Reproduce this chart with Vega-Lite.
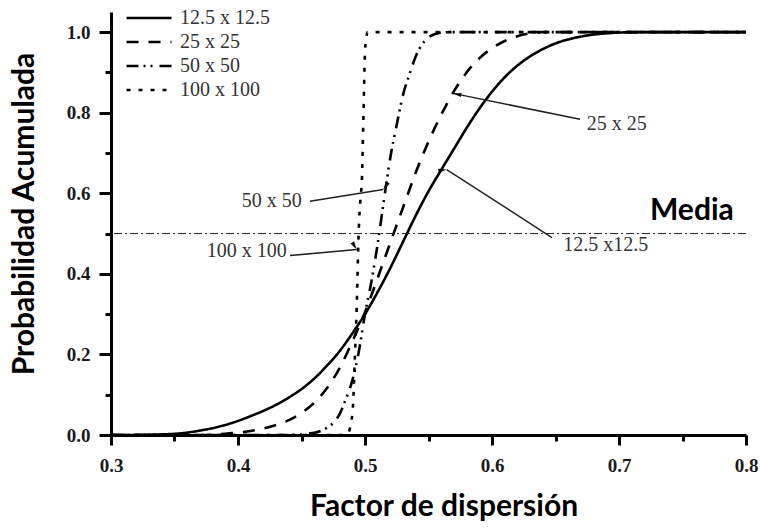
{
  "$schema": "https://vega.github.io/schema/vega-lite/v6.json",
  "width": 635,
  "height": 423,
  "autosize": {"type": "none"},
  "padding": {"left": 111, "top": 12, "right": 14, "bottom": 96},
  "background": "white",
  "config": {
    "view": {"stroke": null},
    "axis": {
      "grid": false,
      "tickWidth": 3, "tickColor": "black",
      "domainWidth": 3, "domainColor": "black",
      "labelFont": "Liberation Serif", "labelFontWeight": "bold", "labelFontSize": 19, "labelColor": "#1a1a1a",
      "labelOverlap": false, "labelFlush": false,
      "titleFont": "Lato", "titleFontWeight": "bold", "titleFontSize": 30, "titleColor": "black"
    }
  },
  "datasets": {
    "curves": [
      {"serie": "12.5 x 12.5", "x": 0.30, "p": 0},
      {"serie": "12.5 x 12.5", "x": 0.32, "p": 0.0002},
      {"serie": "12.5 x 12.5", "x": 0.34, "p": 0.0015},
      {"serie": "12.5 x 12.5", "x": 0.35, "p": 0.003},
      {"serie": "12.5 x 12.5", "x": 0.36, "p": 0.006},
      {"serie": "12.5 x 12.5", "x": 0.37, "p": 0.011},
      {"serie": "12.5 x 12.5", "x": 0.38, "p": 0.017},
      {"serie": "12.5 x 12.5", "x": 0.39, "p": 0.025},
      {"serie": "12.5 x 12.5", "x": 0.40, "p": 0.035},
      {"serie": "12.5 x 12.5", "x": 0.41, "p": 0.047},
      {"serie": "12.5 x 12.5", "x": 0.42, "p": 0.06},
      {"serie": "12.5 x 12.5", "x": 0.43, "p": 0.075},
      {"serie": "12.5 x 12.5", "x": 0.44, "p": 0.093},
      {"serie": "12.5 x 12.5", "x": 0.45, "p": 0.114},
      {"serie": "12.5 x 12.5", "x": 0.46, "p": 0.14},
      {"serie": "12.5 x 12.5", "x": 0.47, "p": 0.172},
      {"serie": "12.5 x 12.5", "x": 0.48, "p": 0.208},
      {"serie": "12.5 x 12.5", "x": 0.49, "p": 0.252},
      {"serie": "12.5 x 12.5", "x": 0.50, "p": 0.30},
      {"serie": "12.5 x 12.5", "x": 0.51, "p": 0.355},
      {"serie": "12.5 x 12.5", "x": 0.52, "p": 0.415},
      {"serie": "12.5 x 12.5", "x": 0.53, "p": 0.48},
      {"serie": "12.5 x 12.5", "x": 0.54, "p": 0.545},
      {"serie": "12.5 x 12.5", "x": 0.55, "p": 0.605},
      {"serie": "12.5 x 12.5", "x": 0.56, "p": 0.658},
      {"serie": "12.5 x 12.5", "x": 0.57, "p": 0.71},
      {"serie": "12.5 x 12.5", "x": 0.58, "p": 0.762},
      {"serie": "12.5 x 12.5", "x": 0.59, "p": 0.81},
      {"serie": "12.5 x 12.5", "x": 0.60, "p": 0.852},
      {"serie": "12.5 x 12.5", "x": 0.61, "p": 0.888},
      {"serie": "12.5 x 12.5", "x": 0.62, "p": 0.917},
      {"serie": "12.5 x 12.5", "x": 0.63, "p": 0.94},
      {"serie": "12.5 x 12.5", "x": 0.64, "p": 0.958},
      {"serie": "12.5 x 12.5", "x": 0.65, "p": 0.972},
      {"serie": "12.5 x 12.5", "x": 0.66, "p": 0.982},
      {"serie": "12.5 x 12.5", "x": 0.67, "p": 0.989},
      {"serie": "12.5 x 12.5", "x": 0.68, "p": 0.994},
      {"serie": "12.5 x 12.5", "x": 0.69, "p": 0.997},
      {"serie": "12.5 x 12.5", "x": 0.70, "p": 0.999},
      {"serie": "12.5 x 12.5", "x": 0.72, "p": 1.0},
      {"serie": "12.5 x 12.5", "x": 0.80, "p": 1.0},
      {"serie": "25 x 25", "x": 0.30, "p": 0},
      {"serie": "25 x 25", "x": 0.37, "p": 0},
      {"serie": "25 x 25", "x": 0.39, "p": 0.003},
      {"serie": "25 x 25", "x": 0.40, "p": 0.006},
      {"serie": "25 x 25", "x": 0.41, "p": 0.01},
      {"serie": "25 x 25", "x": 0.42, "p": 0.016},
      {"serie": "25 x 25", "x": 0.43, "p": 0.025},
      {"serie": "25 x 25", "x": 0.44, "p": 0.037},
      {"serie": "25 x 25", "x": 0.45, "p": 0.055},
      {"serie": "25 x 25", "x": 0.46, "p": 0.08},
      {"serie": "25 x 25", "x": 0.47, "p": 0.116},
      {"serie": "25 x 25", "x": 0.48, "p": 0.166},
      {"serie": "25 x 25", "x": 0.49, "p": 0.232},
      {"serie": "25 x 25", "x": 0.50, "p": 0.305},
      {"serie": "25 x 25", "x": 0.51, "p": 0.39},
      {"serie": "25 x 25", "x": 0.52, "p": 0.478},
      {"serie": "25 x 25", "x": 0.53, "p": 0.565},
      {"serie": "25 x 25", "x": 0.54, "p": 0.652},
      {"serie": "25 x 25", "x": 0.55, "p": 0.728},
      {"serie": "25 x 25", "x": 0.56, "p": 0.795},
      {"serie": "25 x 25", "x": 0.57, "p": 0.853},
      {"serie": "25 x 25", "x": 0.58, "p": 0.90},
      {"serie": "25 x 25", "x": 0.59, "p": 0.935},
      {"serie": "25 x 25", "x": 0.60, "p": 0.96},
      {"serie": "25 x 25", "x": 0.61, "p": 0.978},
      {"serie": "25 x 25", "x": 0.62, "p": 0.99},
      {"serie": "25 x 25", "x": 0.63, "p": 0.997},
      {"serie": "25 x 25", "x": 0.64, "p": 1.0},
      {"serie": "25 x 25", "x": 0.80, "p": 1.0},
      {"serie": "50 x 50", "x": 0.30, "p": 0},
      {"serie": "50 x 50", "x": 0.44, "p": 0},
      {"serie": "50 x 50", "x": 0.455, "p": 0.003},
      {"serie": "50 x 50", "x": 0.465, "p": 0.01},
      {"serie": "50 x 50", "x": 0.47, "p": 0.018},
      {"serie": "50 x 50", "x": 0.475, "p": 0.03},
      {"serie": "50 x 50", "x": 0.48, "p": 0.052},
      {"serie": "50 x 50", "x": 0.485, "p": 0.09},
      {"serie": "50 x 50", "x": 0.49, "p": 0.135},
      {"serie": "50 x 50", "x": 0.495, "p": 0.205},
      {"serie": "50 x 50", "x": 0.50, "p": 0.30},
      {"serie": "50 x 50", "x": 0.505, "p": 0.38},
      {"serie": "50 x 50", "x": 0.51, "p": 0.475},
      {"serie": "50 x 50", "x": 0.515, "p": 0.585},
      {"serie": "50 x 50", "x": 0.52, "p": 0.69},
      {"serie": "50 x 50", "x": 0.525, "p": 0.77},
      {"serie": "50 x 50", "x": 0.53, "p": 0.845},
      {"serie": "50 x 50", "x": 0.535, "p": 0.895},
      {"serie": "50 x 50", "x": 0.54, "p": 0.94},
      {"serie": "50 x 50", "x": 0.545, "p": 0.97},
      {"serie": "50 x 50", "x": 0.55, "p": 0.987},
      {"serie": "50 x 50", "x": 0.555, "p": 0.995},
      {"serie": "50 x 50", "x": 0.56, "p": 0.999},
      {"serie": "50 x 50", "x": 0.57, "p": 1.0},
      {"serie": "50 x 50", "x": 0.80, "p": 1.0},
      {"serie": "100 x 100", "x": 0.30, "p": 0},
      {"serie": "100 x 100", "x": 0.485, "p": 0},
      {"serie": "100 x 100", "x": 0.487, "p": 0.006},
      {"serie": "100 x 100", "x": 0.489, "p": 0.03},
      {"serie": "100 x 100", "x": 0.4905, "p": 0.07},
      {"serie": "100 x 100", "x": 0.492, "p": 0.19},
      {"serie": "100 x 100", "x": 0.4935, "p": 0.32},
      {"serie": "100 x 100", "x": 0.495, "p": 0.50},
      {"serie": "100 x 100", "x": 0.4965, "p": 0.59},
      {"serie": "100 x 100", "x": 0.4975, "p": 0.63},
      {"serie": "100 x 100", "x": 0.4987, "p": 0.78},
      {"serie": "100 x 100", "x": 0.50, "p": 0.95},
      {"serie": "100 x 100", "x": 0.501, "p": 0.985},
      {"serie": "100 x 100", "x": 0.502, "p": 1.0},
      {"serie": "100 x 100", "x": 0.80, "p": 1.0}
    ],
    "arrows": [
      {"label": "25 x 25", "x": 0.6693, "y": 0.7836, "x2": 0.5693, "y2": 0.848},
      {"label": "50 x 50", "x": 0.4567, "y": 0.5803, "x2": 0.5144, "y2": 0.6095},
      {"label": "100 x 100", "x": 0.4409, "y": 0.4453, "x2": 0.4935, "y2": 0.4602},
      {"label": "12.5 x12.5", "x": 0.6472, "y": 0.49, "x2": 0.5643, "y2": 0.659}
    ],
    "labels": [
      {"label": "25 x 25", "x": 0.6746, "y": 0.771},
      {"label": "50 x 50", "x": 0.4029, "y": 0.5804},
      {"label": "100 x 100", "x": 0.3754, "y": 0.456},
      {"label": "12.5 x12.5", "x": 0.6562, "y": 0.4726}
    ]
  },
  "layer": [
    {
      "data": {"name": "curves"},
      "mark": {"type": "line", "strokeWidth": 2.6, "color": "black", "strokeCap": "butt", "interpolate": "monotone"},
      "encoding": {
        "x": {
          "field": "x", "type": "quantitative",
          "scale": {"domain": [0.3, 0.8], "nice": false, "zero": false},
          "axis": {
            "title": "Factor de dispersión",
            "values": [0.3, 0.35, 0.4, 0.45, 0.5, 0.55, 0.6, 0.65, 0.7, 0.75, 0.8],
            "labelExpr": "abs(datum.value*10-round(datum.value*10))<0.01 ? format(datum.value,'.1f') : ''",
            "tickSize": 10,
            "tickDash": {"condition": {"test": "abs(datum.value*10-round(datum.value*10))<0.01", "value": [20, 0]}, "value": [6, 30]},
            "labelFontSize": 19,
            "labelBaseline": "middle", "labelPadding": 20,
            "titleX": 332.5, "titleY": 80, "titleBaseline": "alphabetic"
          }
        },
        "y": {
          "field": "p", "type": "quantitative",
          "scale": {"domain": [0, 1.05], "nice": false, "zero": false},
          "axis": {
            "title": "Probabilidad Acumulada",
            "values": [0, 0.1, 0.2, 0.3, 0.4, 0.5, 0.6, 0.7, 0.8, 0.9, 1.0],
            "labelExpr": "round(datum.value*10)%2==0 ? format(datum.value,'.1f') : ''",
            "tickSize": 12,
            "tickDash": {"condition": {"test": "round(datum.value*10)%2==0", "value": [20, 0]}, "value": [6, 30]},
            "labelFontSize": 19,
            "labelPadding": 9,
            "titleX": -87, "titleY": 201.5, "titleBaseline": "middle", "titleAngle": -90
          }
        },
        "strokeDash": {
          "field": "serie", "type": "nominal",
          "scale": {
            "domain": ["12.5 x 12.5", "25 x 25", "50 x 50", "100 x 100"],
            "range": [[1, 0], [12, 10], [12, 5, 2, 5, 2, 7], [4, 8]]
          },
          "legend": {
            "title": null, "orient": "none", "legendX": 28, "legendY": -4,
            "symbolType": "M-5,0H5", "symbolSize": 81, "symbolStrokeWidth": 2.6, "symbolStrokeColor": "black",
            "labelFont": "Liberation Serif", "labelFontSize": 20, "labelColor": "#333",
            "labelOffset": 21, "rowPadding": 4, "padding": 0, "labelLimit": 300
          }
        }
      }
    },
    {
      "data": {"values": [{"p": 0.5}]},
      "mark": {"type": "rule", "strokeDash": [8, 3, 2, 3], "strokeWidth": 1, "color": "#222"},
      "encoding": {
        "y": {"field": "p", "type": "quantitative", "scale": {"domain": [0, 1.05], "nice": false, "zero": false}}
      }
    },
    {
      "data": {"name": "arrows"},
      "mark": {"type": "rule", "strokeWidth": 1.5, "color": "#222"},
      "encoding": {
        "x": {"field": "x", "type": "quantitative", "scale": {"domain": [0.3, 0.8], "nice": false, "zero": false}},
        "y": {"field": "y", "type": "quantitative", "scale": {"domain": [0, 1.05], "nice": false, "zero": false}},
        "x2": {"field": "x2"},
        "y2": {"field": "y2"}
      }
    },
    {
      "data": {"name": "arrows"},
      "mark": {"type": "point", "shape": "M0,0L-0.6,2.4L0.6,2.4Z", "filled": true, "size": 49, "color": "#111", "opacity": 1},
      "encoding": {
        "x": {"field": "x2", "type": "quantitative", "scale": {"domain": [0.3, 0.8], "nice": false, "zero": false}},
        "y": {"field": "y2", "type": "quantitative", "scale": {"domain": [0, 1.05], "nice": false, "zero": false}},
        "angle": {
          "field": "label", "type": "nominal",
          "scale": {"domain": ["25 x 25", "50 x 50", "100 x 100", "12.5 x12.5"], "range": [281.6, 81, 84.9, 302.9]},
          "legend": null
        }
      }
    },
    {
      "data": {"name": "labels"},
      "mark": {"type": "text", "align": "left", "baseline": "middle", "font": "Liberation Serif", "fontSize": 20, "color": "#333"},
      "encoding": {
        "x": {"field": "x", "type": "quantitative", "scale": {"domain": [0.3, 0.8], "nice": false, "zero": false}},
        "y": {"field": "y", "type": "quantitative", "scale": {"domain": [0, 1.05], "nice": false, "zero": false}},
        "text": {"field": "label"}
      }
    },
    {
      "data": {"values": [{"label": "Media", "x": 0.7244, "y": 0.5348}]},
      "mark": {"type": "text", "align": "left", "baseline": "alphabetic", "font": "Lato", "fontWeight": "bold", "fontSize": 30, "color": "black"},
      "encoding": {
        "x": {"field": "x", "type": "quantitative", "scale": {"domain": [0.3, 0.8], "nice": false, "zero": false}},
        "y": {"field": "y", "type": "quantitative", "scale": {"domain": [0, 1.05], "nice": false, "zero": false}},
        "text": {"field": "label"}
      }
    }
  ]
}
